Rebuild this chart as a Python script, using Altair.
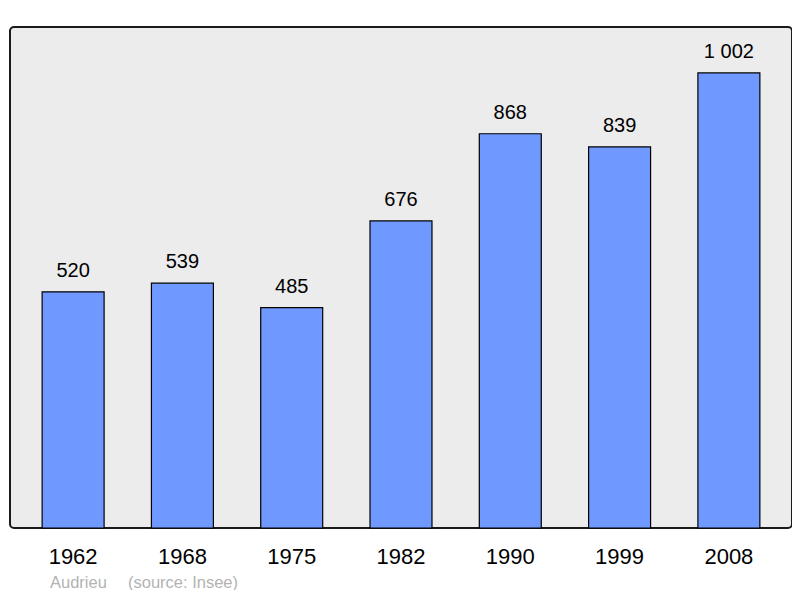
import pandas as pd
import altair as alt

years = ['1962', '1968', '1975', '1982', '1990', '1999', '2008']
population = [520, 539, 485, 676, 868, 839, 1002]

data = pd.DataFrame({'year': years, 'pop': population})
data['label'] = data['pop'].apply(lambda v: f'{v:,}'.replace(',', ' '))

font = 'Liberation Sans'

base = alt.Chart(data).encode(
    alt.X('year:O', title=None,
          scale=alt.Scale(paddingInner=0.433, paddingOuter=0.294),
          axis=alt.Axis(labelAngle=0, labelFontSize=22, labelFont=font,
                        labelColor='black', ticks=False, domain=False,
                        labelPadding=18)),
    alt.Y('pop:Q', title=None, scale=alt.Scale(domain=[0, 1103], nice=False),
          axis=None),
)

bars = base.mark_bar(color='#7099ff', stroke='black', strokeWidth=1.2)
labels = base.mark_text(dy=-11, baseline='bottom', fontSize=20, font=font,
                        color='black').encode(text='label:N')

footer = pd.DataFrame({'t': ['Audrieu', '(source: Insee)'], 'px': [40, 118]})
note = alt.Chart(footer).mark_text(align='left', baseline='middle', fontSize=16.5,
                                   font=font, color='#b3b3b3').encode(
    x=alt.X('px:Q', scale=None), y=alt.value(556), text='t:N')

chart = alt.layer(bars, labels, note).properties(
    width=782, height=501,
    autosize=alt.AutoSizeParams(type='none'),
    padding={'left': 2, 'top': 19, 'right': 0, 'bottom': 62},
).configure_view(
    fill='#ececec', stroke='#1a1a1a', strokeWidth=2, cornerRadius=4
)

chart.save('out.html', embed_options={'renderer': 'svg', 'actions': False})
